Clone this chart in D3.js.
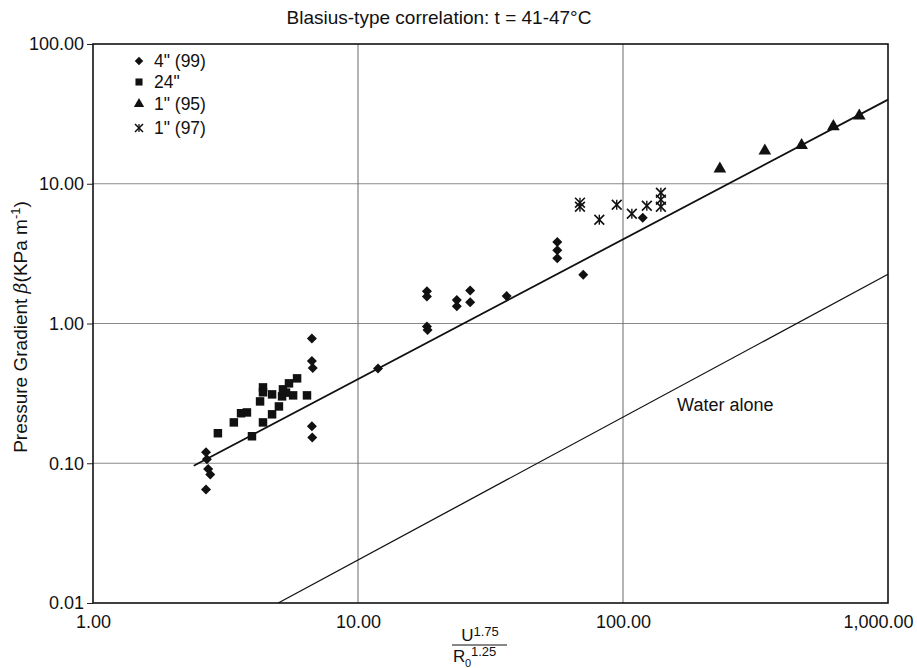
<!DOCTYPE html>
<html>
<head>
<meta charset="utf-8">
<script src="https://cdn.jsdelivr.net/npm/d3@7"></script>
<style>
  body { margin: 0; background: #fff; }
  text { font-family: "Liberation Sans", Arial, sans-serif; fill: #111; }
</style>
</head>
<body>
<div id="chart"></div>
<script>
// Data
// =================================
// 4" (99)
var diamondX = [2.67, 2.69, 2.72, 2.77, 2.67, 6.70, 6.70, 6.75, 6.70, 6.72, 11.9, 18.2, 18.2, 18.2, 18.3,
  23.6, 23.6, 26.5, 26.5, 36.4, 56.5, 56.5, 56.5, 70.8, 118.7];
var diamondY = [0.120, 0.107, 0.091, 0.083, 0.065, 0.78, 0.54, 0.48, 0.184, 0.153, 0.477, 1.70, 1.56, 0.95, 0.90,
  1.47, 1.33, 1.72, 1.42, 1.57, 3.83, 3.34, 2.93, 2.23, 5.72];

// 24"
var squareX = [2.96, 3.40, 3.62, 3.81, 3.98, 4.27, 4.38, 4.38, 4.38, 4.74, 4.74, 5.03, 5.17, 5.21, 5.49,
  5.69, 5.89, 6.42, 5.35];
var squareY = [0.164, 0.196, 0.228, 0.231, 0.156, 0.277, 0.349, 0.322, 0.196, 0.311, 0.224, 0.255, 0.301, 0.338, 0.373,
  0.306, 0.405, 0.306, 0.320];

// 1" (95)
var triangleX = [232, 343, 472, 622, 779];
var triangleY = [12.8, 17.2, 18.8, 25.7, 30.6];

// 1" (97)
var starX = [68.8, 68.8, 81.4, 94.7, 108, 123, 139, 139, 139];
var starY = [7.32, 6.85, 5.53, 7.08, 6.10, 6.96, 8.62, 7.69, 6.85];

// correlation lines
var fitX = [2.4, 1000];
var fitY = [0.096, 40];
var waterX = [5.0, 1000];
var waterY = [0.01, 2.25];

var xTicks = [1, 10, 100, 1000];
var yTicks = [0.01, 0.1, 1, 10, 100];

var legendLabels = ['4" (99)', '24"', '1" (95)', '1" (97)'];

// Step 1: Set up the chart
//= ================================
var svgWidth = 917;
var svgHeight = 668;

var margin = { top: 44, right: 29, bottom: 65, left: 93 };

var width = svgWidth - margin.left - margin.right;
var height = svgHeight - margin.top - margin.bottom;

var svg = d3.select("#chart")
  .append("svg")
  .attr("width", svgWidth)
  .attr("height", svgHeight);

var chartGroup = svg.append("g")
  .attr("transform", `translate(${margin.left}, ${margin.top})`);

// Scales
var xScale = d3.scaleLog().domain([1, 1000]).range([0, width]);
var yScale = d3.scaleLog().domain([0.01, 100]).range([height, 0]);

var fmt = d3.format(",.2f");

// Gridlines
chartGroup.selectAll(".hgrid")
  .data([0.1, 1, 10])
  .enter()
  .append("line")
  .attr("x1", 0)
  .attr("x2", width)
  .attr("y1", d => yScale(d))
  .attr("y2", d => yScale(d))
  .attr("stroke", "#8a8a8a")
  .attr("stroke-width", 1);

chartGroup.selectAll(".vgrid")
  .data([10, 100])
  .enter()
  .append("line")
  .attr("x1", d => xScale(d))
  .attr("x2", d => xScale(d))
  .attr("y1", 0)
  .attr("y2", height)
  .attr("stroke", "#6a6a6a")
  .attr("stroke-width", 1);

// Axes
var leftAxis = d3.axisLeft(yScale).tickValues(yTicks).tickFormat(fmt).tickSize(6).tickPadding(3);
var bottomAxis = d3.axisBottom(xScale).tickValues(xTicks).tickFormat(fmt).tickSize(0).tickPadding(12);

var yAxisG = chartGroup.append("g").call(leftAxis);
var xAxisG = chartGroup.append("g").attr("transform", `translate(0, ${height})`).call(bottomAxis);

[yAxisG, xAxisG].forEach(function (g) {
  g.select(".domain").remove();
  g.selectAll("text")
    .attr("font-size", "18px")
    .attr("font-family", "Liberation Sans, Arial, sans-serif")
    .attr("fill", "#111");
  g.selectAll("line").attr("stroke", "#222");
});

// last x label sits inside the page
xAxisG.selectAll(".tick text")
  .filter(d => d === 1000)
  .attr("text-anchor", "end")
  .attr("x", 25);

// Frame
chartGroup.append("rect")
  .attr("x", 0)
  .attr("y", 0)
  .attr("width", width)
  .attr("height", height)
  .attr("fill", "none")
  .attr("stroke", "#111")
  .attr("stroke-width", 1.6);

// Lines
var line = d3.line()
  .x(d => xScale(d[0]))
  .y(d => yScale(d[1]));

chartGroup.append("path")
  .datum(d3.zip(fitX, fitY))
  .attr("d", line)
  .attr("fill", "none")
  .attr("stroke", "#111")
  .attr("stroke-width", 1.8);

chartGroup.append("path")
  .datum(d3.zip(waterX, waterY))
  .attr("d", line)
  .attr("fill", "none")
  .attr("stroke", "#111")
  .attr("stroke-width", 1.3);

chartGroup.append("text")
  .attr("x", xScale(160))
  .attr("y", yScale(0.235))
  .attr("font-size", "18px")
  .text("Water alone");

// Markers
var diamond = d3.symbol().type(d3.symbolDiamond2).size(64);
var square = d3.symbol().type(d3.symbolSquare).size(72);
var triangle = d3.symbol().type(d3.symbolTriangle).size(70);
var star = d3.symbol().type(d3.symbolTimes).size(64);

function drawPoints(xs, ys, sym, cls, isStar) {
  var pts = chartGroup.selectAll("." + cls)
    .data(d3.zip(xs, ys))
    .enter()
    .append("g")
    .attr("class", cls)
    .attr("transform", d => `translate(${xScale(d[0])}, ${yScale(d[1])})`);
  if (isStar) {
    pts.append("path").attr("d", sym).attr("fill", "none").attr("stroke", "#111").attr("stroke-width", 1.6);
    pts.append("line").attr("x1", 0).attr("x2", 0).attr("y1", -5).attr("y2", 5)
      .attr("stroke", "#111").attr("stroke-width", 1.4);
  } else {
    pts.append("path").attr("d", sym).attr("fill", "#111");
  }
}

drawPoints(squareX, squareY, square, "sq", false);
drawPoints(diamondX, diamondY, diamond, "dm", false);
drawPoints(triangleX, triangleY, triangle, "tr", false);
drawPoints(starX, starY, star, "st", true);

// Legend
var legendRows = [17, 38, 60, 84];
legendLabels.forEach(function (lab, i) {
  var g = chartGroup.append("g").attr("transform", `translate(46, ${legendRows[i]})`);
  if (i === 3) {
    g.append("path").attr("d", d3.symbol().type(d3.symbolTimes).size(44)).attr("fill", "none")
      .attr("stroke", "#111").attr("stroke-width", 1.5);
    g.append("line").attr("x1", 0).attr("x2", 0).attr("y1", -4).attr("y2", 4)
      .attr("stroke", "#111").attr("stroke-width", 1.3);
  } else {
    var s = [d3.symbol().type(d3.symbolDiamond2).size(46),
      d3.symbol().type(d3.symbolSquare).size(50),
      d3.symbol().type(d3.symbolTriangle).size(46)][i];
    g.append("path").attr("d", s).attr("fill", "#111");
  }
  g.append("text")
    .attr("x", 15)
    .attr("y", 6)
    .attr("font-size", "17.5px")
    .text(lab);
});

// Title
svg.append("text")
  .attr("x", 439)
  .attr("y", 24)
  .attr("text-anchor", "middle")
  .attr("font-size", "19px")
  .text("Blasius-type correlation: t = 41-47°C");

// Y axis label
var yLab = svg.append("text")
  .attr("transform", `translate(27, 327) rotate(-90)`)
  .attr("text-anchor", "middle")
  .attr("font-size", "19px");
yLab.append("tspan").text("Pressure Gradient ");
yLab.append("tspan").attr("font-style", "italic").attr("font-family", "DejaVu Serif, serif").text("β");
yLab.append("tspan").text("(KPa m");
yLab.append("tspan").attr("font-size", "13px").attr("dy", -7).text("-1");
yLab.append("tspan").attr("dy", 7).text(")");

// X axis label (fraction)
var fx = 480;
var num = svg.append("text")
  .attr("x", fx)
  .attr("y", 641)
  .attr("text-anchor", "middle")
  .attr("font-size", "17px");
num.append("tspan").text("U");
num.append("tspan").attr("font-size", "13px").attr("dy", -5).text("1.75");

svg.append("line")
  .attr("x1", fx - 28)
  .attr("x2", fx + 27)
  .attr("y1", 645)
  .attr("y2", 645)
  .attr("stroke", "#111")
  .attr("stroke-width", 1.2);

svg.append("text")
  .attr("x", fx - 27)
  .attr("y", 662)
  .attr("font-size", "17px")
  .text("R");
svg.append("text")
  .attr("x", fx - 15)
  .attr("y", 667)
  .attr("font-size", "11px")
  .text("0");
svg.append("text")
  .attr("x", fx - 9)
  .attr("y", 656)
  .attr("font-size", "13px")
  .text("1.25");
</script>
</body>
</html>
